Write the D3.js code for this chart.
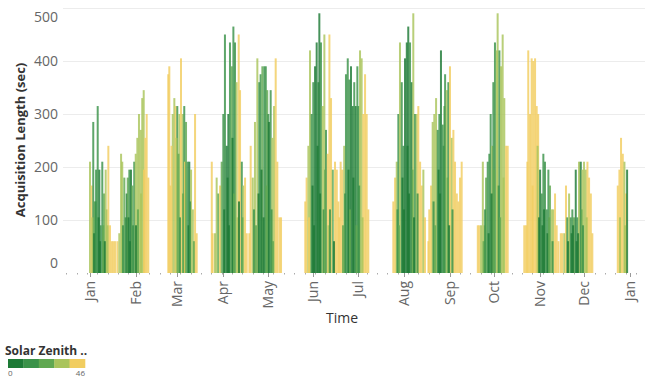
<!DOCTYPE html>
<html><head><meta charset="utf-8">
<script src="https://cdn.jsdelivr.net/npm/d3@7"></script>
<style>
html,body{margin:0;padding:0;background:#fff;}
svg text{font-family:"Open Sans","Noto Sans",sans-serif;}
</style></head>
<body><svg id="c" width="652" height="377"></svg>
<script>
// Each entry: [day of year 2019 (fractional = time of day), acquisition length (sec), solar zenith (deg)]
const janA = [[0.0,210,31],[1.1,165,42],[2.2,285,13],[3.2,135,22],[4.1,195,13],[5.2,315,13],[6.3,195,4],[7.2,90,13],[8.3,210,13],[9.5,150,22],[10.6,195,31],[11.3,120,31],[12.4,240,42],[13.5,90,44],[14.7,60,44],[15.7,60,44],[16.9,60,44],
  [1.6,105,31],[2.8,75,4],[3.8,135,13],[5.8,105,4],[6.8,60,4],[8.9,90,22],[10.0,60,4],[11.9,90,31]];
const febA = [[18.5,60,44],[19.8,75,31],[21.0,225,31],[21.8,210,31],[23.2,180,22],[24.1,105,13],[24.8,150,4],[25.5,180,22],[26.6,195,13],[27.7,195,4],[28.6,165,22],[29.9,210,13],[30.9,225,31],[32.0,255,31],[33.1,300,31],[34.3,270,31],[35.3,330,31],[36.3,345,31],[37.4,255,42],[38.3,300,42],[39.4,180,42],
  [22.3,90,13],[26.0,105,4],[27.0,60,4],[29.1,90,13],[31.1,90,4],[32.4,120,22],[34.5,150,31],[36.5,195,42]];
const marA = [[52.9,375,42],[53.6,390,42],[54.3,165,42],[55.9,300,31],[57.0,330,31],[57.9,315,42],[59.0,315,13],[60.4,300,31],[61.5,405,42],[62.7,300,31],[63.7,315,13],[64.2,210,42],[64.9,285,22],[66.0,210,13],[67.1,210,4],[68.3,195,31],[69.5,120,31],[71.0,300,42],[72.1,75,42],
  [55.1,240,42],[58.5,255,31],[59.8,225,22],[60.8,105,13],[62.9,150,22],[66.6,90,4],[67.6,135,13],[70.2,60,22]];
const aprA = [[82.3,210,42],[82.9,75,42],[84.5,75,31],[85.6,180,31],[86.7,150,22],[87.9,165,42],[89.0,210,22],[90.1,300,13],[91.2,450,13],[92.4,240,4],[93.5,300,4],[94.6,435,13],[95.8,390,22],[96.9,465,13],[98.0,435,13],[99.1,360,31],[100.5,450,42],[101.4,345,42],[102.6,210,13],[103.6,165,31],[104.8,180,42],[105.9,75,42],
  [90.7,120,4],[93.0,180,4],[93.9,90,4],[96.3,255,4],[97.3,150,22],[99.7,105,31],[100.7,135,4],[103.0,105,22]];
const mayA = [[107.7,75,44],[108.6,240,42],[110.0,180,31],[111.5,285,31],[113.1,405,31],[114.4,360,13],[115.3,375,13],[116.5,390,22],[117.8,390,13],[118.8,390,13],[119.8,345,22],[120.5,300,13],[121.0,285,4],[122.1,345,13],[123.2,255,31],[124.4,315,31],[125.5,405,42],[126.6,210,42],[128.0,105,42],[129.1,105,42],
  [110.8,120,13],[112.2,90,22],[113.9,150,4],[115.9,195,4],[117.3,105,4],[119.3,165,22],[122.7,120,13],[123.7,60,22]];
const junA = [[145.5,135,42],[146.4,180,42],[147.6,240,31],[148.7,420,31],[149.8,300,13],[150.9,360,13],[152.1,390,4],[153.2,435,4],[154.3,360,13],[155.0,490,4],[156.1,435,13],[157.3,315,31],[158.4,450,31],[159.5,270,13],[160.7,225,42],[161.8,450,42],[162.9,330,42],[164.1,195,22],[165.6,210,42],[166.8,195,42],[167.9,135,42],
  [148.0,105,42],[150.4,165,4],[151.4,90,4],[153.8,240,4],[155.5,150,4],[157.9,120,13],[158.9,195,22],[161.2,90,31],[162.2,120,13],[164.9,60,4]];
const julA = [[168.5,105,42],[169.4,210,42],[170.5,195,42],[171.8,240,31],[173.0,375,13],[174.2,405,13],[175.3,365,13],[176.4,390,4],[177.6,315,4],[178.6,360,13],[179.6,315,4],[180.7,390,13],[181.4,315,13],[182.5,420,31],[183.6,405,31],[184.7,300,42],[185.9,375,42],[187.0,300,42],[188.1,120,42],
  [171.0,90,22],[172.4,150,13],[174.7,195,4],[175.7,120,22],[178.0,180,4],[180.1,90,22],[181.9,165,13],[184.2,105,31]];
const augA = [[205.0,135,42],[206.2,180,42],[207.3,210,31],[208.4,300,13],[209.5,435,31],[210.7,360,13],[211.8,240,13],[212.9,405,4],[214.1,435,4],[215.1,465,4],[216.3,435,13],[217.4,360,4],[218.5,490,31],[219.7,300,13],[220.8,300,31],[221.9,315,42],[223.1,210,42],[224.2,165,42],[225.3,195,31],[226.4,105,42],
  [207.8,120,13],[208.8,90,22],[211.2,180,4],[212.2,120,4],[214.6,240,4],[215.6,150,4],[218.0,195,22],[219.0,105,4],[221.4,150,13]];
const sepA = [[228.7,60,42],[229.3,120,42],[230.5,165,42],[231.6,285,31],[232.7,300,31],[233.9,330,31],[235.0,270,13],[236.1,300,13],[237.2,420,4],[238.4,280,13],[239.5,315,22],[240.0,375,13],[241.1,345,31],[242.2,360,13],[243.3,390,42],[244.5,255,31],[245.6,270,42],[246.7,210,42],[247.9,150,42],[249.0,135,42],[250.1,180,42],[251.2,210,42],
  [232.2,135,13],[233.3,90,22],[235.6,195,4],[236.6,150,4],[239.0,240,13],[241.7,180,22],[242.7,90,4],[245.0,120,13]];
const octA = [[262.1,90,42],[263.1,90,42],[264.3,90,31],[265.5,210,31],[266.5,90,31],[267.7,180,22],[268.8,210,13],[269.9,225,13],[270.8,300,13],[271.9,240,31],[272.6,360,13],[273.7,435,13],[274.9,420,31],[275.5,490,31],[276.7,420,13],[277.8,390,31],[278.9,450,31],[280.0,330,31],[281.2,240,42],[282.3,240,42],
  [266.0,60,22],[267.0,120,13],[269.4,75,4],[271.4,150,4],[273.1,195,22],[276.2,165,13],[277.2,105,22],[279.5,180,31]];
const novA = [[293.5,90,42],[294.7,90,42],[295.6,210,42],[296.2,420,42],[297.4,300,42],[298.5,405,42],[299.6,400,42],[300.8,405,42],[301.9,315,42],[302.9,300,42],[304.2,195,4],[305.3,150,13],[306.4,225,13],[307.5,210,13],[308.7,120,13],[309.8,195,13],[310.9,165,22],[312.1,120,31],[313.1,120,31],[314.3,150,42],[315.4,90,42],[316.6,60,44],
  [299.1,165,42],[302.5,240,31],[303.5,105,4],[305.8,90,4],[306.9,120,4],[309.2,75,4],[310.3,105,22],[312.6,60,13]];
const decA = [[318.2,75,44],[319.3,75,42],[320.6,75,31],[321.7,165,42],[322.6,105,13],[323.8,150,31],[324.9,105,13],[326.0,120,13],[327.1,105,22],[328.3,195,4],[329.4,105,13],[330.5,210,31],[331.7,210,4],[332.8,195,31],[333.9,210,31],[335.1,195,31],[336.2,210,42],[337.3,180,42],[338.5,150,42],[339.5,75,44],
  [323.1,60,4],[325.5,75,4],[326.5,90,4],[328.9,60,4],[329.9,75,4],[332.2,120,22],[333.2,90,13],[335.7,105,31]];
const jan2A = [[356.7,165,42],[357.8,195,42],[358.9,255,42],[360.1,225,42],[361.2,210,31],[362.3,150,42],[363.0,195,4],
  [358.2,105,31],[361.6,90,31]];

const yTicks = [0,100,200,300,400,500];
const zenithDomain = [0,46];
const zenithColors = ["#1d7a36","#3a9249","#60a851","#a9c45c","#f1cd60"];
const yTitle = "Acquisition Length (sec)";
const xTitle = "Time";
const legendTitle = "Solar Zenith ..";

const clusters = [janA,febA,marA,aprA,mayA,junA,julA,augA,sepA,octA,novA,decA,jan2A];
const data = clusters.flat();

const svg = d3.select("#c");
const DAY = 864e5;
const t0 = Date.UTC(2019,0,1);
const toDate = d => new Date(t0 + d*DAY);

const x = d3.scaleUtc().domain([toDate(-18.25), toDate(375.1)]).range([63, 645]);
const y = d3.scaleLinear().domain([0,500]).range([273, 8]);
const color = d3.scaleQuantize().domain(zenithDomain).range(zenithColors);

// gridlines
svg.append("g").selectAll("line").data(yTicks.filter(d=>d>0)).join("line")
  .attr("x1",63).attr("x2",645).attr("y1",d=>y(d)+0.5).attr("y2",d=>y(d)+0.5)
  .attr("stroke","#ececec").attr("stroke-width",1);

// bars
const bw = 2;
svg.append("g").selectAll("rect").data(data).join("rect")
  .attr("x", d => x(toDate(d[0])) - bw/2)
  .attr("y", d => y(d[1]))
  .attr("width", bw)
  .attr("height", d => y(0) - y(d[1]))
  .attr("fill", d => color(d[2]))
  .attr("fill-opacity", 0.82);

// y tick labels
svg.append("g").selectAll("text").data(yTicks).join("text")
  .attr("x", 58)
  .attr("y", d => y(d) + (d===500 ? 9 : d===0 ? -10 : 0))
  .attr("dy","0.35em")
  .attr("text-anchor","end")
  .attr("font-size",14).attr("fill","#666")
  .text(d=>d);

// x axis: weekly minor ticks (dots) and month ticks
const weeks = d3.utcWeek.range(x.domain()[0], x.domain()[1]);
svg.append("g").selectAll("line").data(weeks).join("line")
  .attr("x1",d=>Math.round(x(d))+0.5).attr("x2",d=>Math.round(x(d))+0.5)
  .attr("y1",273).attr("y2",274.5).attr("stroke","#aaa");
const months = d3.utcMonth.range(new Date(t0), new Date(Date.UTC(2020,0,2)));
svg.append("g").selectAll("line").data(months).join("line")
  .attr("x1",d=>Math.round(x(d))+0.5).attr("x2",d=>Math.round(x(d))+0.5)
  .attr("y1",273).attr("y2",277).attr("stroke","#999");
svg.append("g").selectAll("text").data(months).join("text")
  .attr("transform", d => `translate(${x(d)+5},281) rotate(-90)`)
  .attr("text-anchor","end")
  .attr("font-size",14).attr("fill","#666")
  .text(d3.utcFormat("%b"));

// axis titles
svg.append("text").attr("transform","translate(25,140) rotate(-90)")
  .attr("text-anchor","middle").attr("font-size",13).attr("font-weight","bold").attr("fill","#333")
  .text(yTitle);
svg.append("text").attr("x",342).attr("y",323).attr("text-anchor","middle")
  .attr("font-size",14).attr("fill","#333").text(xTitle);

// legend
svg.append("text").attr("x",5).attr("y",355).attr("font-size",12).attr("font-weight","bold").attr("fill","#333").text(legendTitle);
const lw = 77/zenithColors.length;
svg.append("g").selectAll("rect").data(zenithColors).join("rect")
  .attr("x",(d,i)=>8+i*lw).attr("y",359).attr("width",lw+0.3).attr("height",9).attr("fill",d=>d);
svg.append("text").attr("x",8).attr("y",376).attr("font-size",8).attr("fill","#666").text(zenithDomain[0]);
svg.append("text").attr("x",85).attr("y",376).attr("text-anchor","end").attr("font-size",8).attr("fill","#666").text(zenithDomain[1]);
</script></body></html>
